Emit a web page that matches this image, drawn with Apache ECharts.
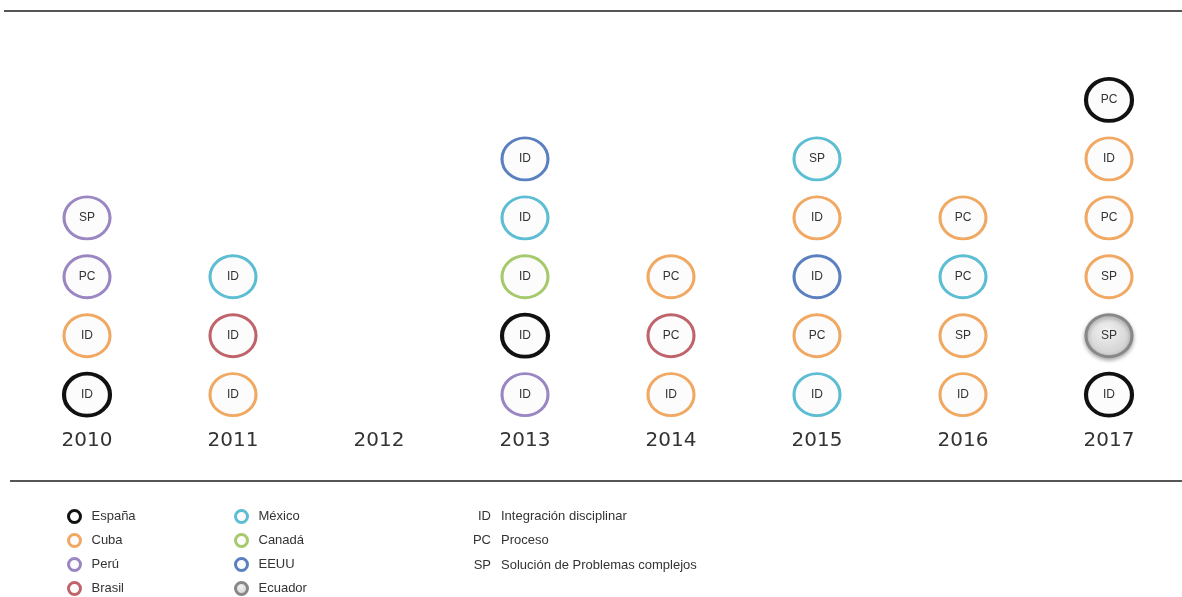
<!DOCTYPE html>
<html>
<head>
<meta charset="utf-8">
<script src="https://cdn.jsdelivr.net/npm/echarts@6/dist/echarts.min.js"></script>
<style>
html,body{margin:0;padding:0;background:#fff;}
#chart{width:1182px;height:597px;}
</style>
</head>
<body>
<div id="chart"></div>
<script>
// ---- data ----
const years = ['2010','2011','2012','2013','2014','2015','2016','2017'];
const countries = ['España','Cuba','Perú','Brasil','México','Canadá','EEUU','Ecuador'];
const countryColors = ['#111111','#f0a862','#9a86c2','#c0646c','#5dbdd2','#a6c96c','#5b80c0','#888888'];
// each column listed bottom -> top: [country, code]
const col2010 = [['España','ID'],['Cuba','ID'],['Perú','PC'],['Perú','SP']];
const col2011 = [['Cuba','ID'],['Brasil','ID'],['México','ID']];
const col2012 = [];
const col2013 = [['Perú','ID'],['España','ID'],['Canadá','ID'],['México','ID'],['EEUU','ID']];
const col2014 = [['Cuba','ID'],['Brasil','PC'],['Cuba','PC']];
const col2015 = [['México','ID'],['Cuba','PC'],['EEUU','ID'],['Cuba','ID'],['México','SP']];
const col2016 = [['Cuba','ID'],['Cuba','SP'],['México','PC'],['Cuba','PC']];
const col2017 = [['España','ID'],['Ecuador','SP'],['Cuba','SP'],['Cuba','PC'],['Cuba','ID'],['España','PC']];
const columns = [col2010,col2011,col2012,col2013,col2014,col2015,col2016,col2017];
const codes = ['ID','PC','SP'];
const codeNames = ['Integración disciplinar','Proceso','Solución de Problemas complejos'];

// ---- build series ----
const series = countries.map((c, ci) => {
  const data = [];
  columns.forEach((col, yi) => {
    col.forEach((entry, ri) => {
      if (entry[0] === c) data.push({ value: [years[yi], ri + 1, entry[1]] });
    });
  });
  const isEcuador = c === 'Ecuador';
  return {
    name: c,
    type: 'scatter',
    data: data,
    symbol: 'circle',
    symbolSize: [46, 42],
    itemStyle: {
      color: isEcuador ? {
        type: 'radial', x: 0.45, y: 0.4, r: 0.6,
        colorStops: [{offset: 0, color: '#f2f2f2'}, {offset: 1, color: '#cdcdcd'}]
      } : '#fcfcfd',
      borderColor: countryColors[ci],
      borderWidth: c === 'España' ? 4 : 3,
      shadowBlur: isEcuador ? 4 : 0,
      shadowColor: 'rgba(0,0,0,0.3)',
      shadowOffsetY: isEcuador ? 2 : 0,
      opacity: 1
    },
    label: {
      show: true,
      position: 'inside',
      formatter: p => p.value[2],
      fontFamily: 'Liberation Sans, Arial, sans-serif',
      fontSize: 12,
      color: '#333'
    },
    emphasis: { disabled: true }
  };
});

// one legend block per country, laid out in two columns of four
const legends = countries.map((c, i) => ({
  data: [c],
  orient: 'vertical',
  left: i < 4 ? 67 : 234,
  top: 509 + (i % 4) * 24,
  padding: 0,
  icon: 'circle',
  itemWidth: 12, itemHeight: 12,
  itemStyle: { borderWidth: 3 },
  textStyle: { fontFamily: 'Liberation Sans, Arial, sans-serif', fontSize: 13, color: '#333', padding: [0,0,0,6] },
  selectedMode: false
}));

const chart = echarts.init(document.getElementById('chart'));
chart.setOption({
  animation: false,
  backgroundColor: '#ffffff',
  grid: { left: 14, right: 0, top: 41, bottom: 167 },
  xAxis: {
    type: 'category',
    data: years,
    boundaryGap: true,
    axisLine: { show: false },
    axisTick: { show: false },
    axisLabel: {
      margin: 1,
      fontFamily: 'DejaVu Sans, sans-serif',
      fontSize: 20,
      color: '#333'
    }
  },
  yAxis: {
    type: 'value',
    min: 0.4,
    max: 7,
    show: false
  },
  legend: legends,
  graphic: [
    { type: 'line', shape: { x1: 4, y1: 11, x2: 1182, y2: 11 }, style: { stroke: '#555', lineWidth: 2 } },
    { type: 'line', shape: { x1: 10, y1: 481, x2: 1182, y2: 481 }, style: { stroke: '#555', lineWidth: 2 } }
  ].concat(codes.map((cd, i) => ({
    type: 'text', x: 491, y: 516 + i * 24.5,
    style: { text: cd, textAlign: 'right', textVerticalAlign: 'middle', fill: '#333', fontSize: 13, fontFamily: 'Liberation Sans, Arial, sans-serif' }
  }))).concat(codeNames.map((nm, i) => ({
    type: 'text', x: 501, y: 516 + i * 24.5,
    style: { text: nm, textAlign: 'left', textVerticalAlign: 'middle', fill: '#333', fontSize: 13, fontFamily: 'Liberation Sans, Arial, sans-serif' }
  }))),
  series: series
});
</script>
</body>
</html>
